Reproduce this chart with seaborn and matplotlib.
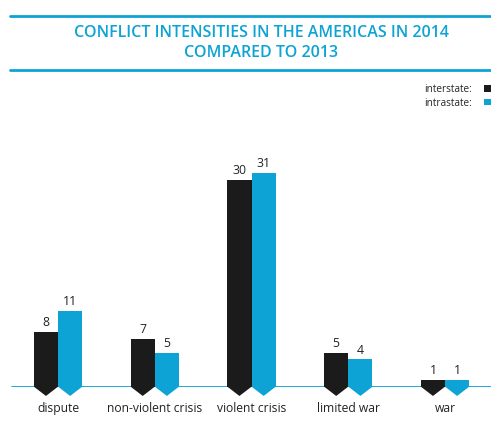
import pandas as pd
import matplotlib.pyplot as plt
from matplotlib.lines import Line2D
from matplotlib.patches import Polygon
import seaborn as sns

# conflict intensities, Americas 2014
intensities = ["dispute", "non-violent crisis", "violent crisis", "limited war", "war"]
interstate = [8, 7, 30, 5, 1]
intrastate = [11, 5, 31, 4, 1]
series_names = ["interstate:", "intrastate:"]

BLACK = "#1c1b1c"
CYAN = "#0ea3d5"

data = pd.DataFrame({
    "intensity": intensities * 2,
    "count": interstate + intrastate,
    "type": [series_names[0]] * len(intensities) + [series_names[1]] * len(intensities),
})

sns.set_theme(style="white")
plt.rcParams["font.family"] = ["Open Sans", "DejaVu Sans"]

fig = plt.figure(figsize=(4.91, 4.25), dpi=100)
ax = fig.add_axes([0, 38 / 425, 1, 262 / 425])

sns.barplot(
    data=data, x="intensity", y="count", hue="type",
    palette=[BLACK, CYAN], width=0.5, saturation=1, gap=0,
    linewidth=0, ax=ax, zorder=3,
)

ax.set_xlim(-0.6, 4.475)
ax.set_ylim(0, 38)
ax.axhline(0, xmin=12 / 491, xmax=1, color=CYAN, lw=1.3, zorder=1)

# arrow-shaped bottoms under each bar
for cont, col in zip(ax.containers, [BLACK, CYAN]):
    for bar in cont:
        x0, w = bar.get_x(), bar.get_width()
        tri = Polygon([(x0, 0.05), (x0 + w, 0.05), (x0 + w / 2, -1.3)],
                      closed=True, color=col, lw=0, clip_on=False, zorder=3)
        ax.add_patch(tri)
    ax.bar_label(cont, padding=2, fontsize=8.8, color="#222222")

for s in ax.spines.values():
    s.set_visible(False)
ax.set_yticks([])
ax.set_xlabel("")
ax.set_ylabel("")
ax.tick_params(axis="x", length=0, pad=11, labelsize=8.7, labelcolor="#222222")

handles, labels = ax.get_legend_handles_labels()
ax.legend(handles, series_names, markerfirst=False, frameon=False,
          loc="upper right", bbox_to_anchor=(1.004, 1.0 - 84 / 425),
          bbox_transform=fig.transFigure, fontsize=7.2, handlelength=0.9,
          handleheight=0.6, handletextpad=1.2, labelspacing=0.25,
          borderpad=0, borderaxespad=0)

fig.text(261 / 491, 1 - 43 / 425,
         "CONFLICT INTENSITIES IN THE AMERICAS IN 2014\nCOMPARED TO 2013",
         ha="center", va="center", color=CYAN, fontsize=11.5, fontweight="semibold",
         linespacing=1.35)
for ypx in (16, 70):
    fig.add_artist(Line2D([10 / 491, 1], [1 - ypx / 425] * 2,
                          transform=fig.transFigure, color=CYAN, lw=2))

fig.savefig("out.png", dpi=100)
